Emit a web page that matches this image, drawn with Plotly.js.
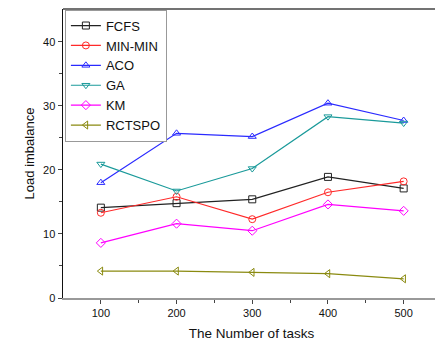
<!DOCTYPE html>
<html><head><meta charset="utf-8">
<script src="https://cdn.plot.ly/plotly-3.0.1.min.js"></script>
<style>html,body{margin:0;padding:0;background:#fff;overflow:hidden}#c{width:435px;height:341px}</style>
</head><body><div id="c"></div>
<script>
const tasks = [100, 200, 300, 400, 500];
const fcfs   = [14.1, 14.8, 15.4, 18.9, 17.1];
const minmin = [13.3, 15.8, 12.3, 16.5, 18.2];
const aco    = [18.0, 25.7, 25.2, 30.4, 27.7];
const ga     = [20.9, 16.7, 20.2, 28.3, 27.3];
const km     = [8.6, 11.6, 10.5, 14.6, 13.6];
const rctspo = [4.2, 4.2, 4.0, 3.8, 3.0];

const names  = ['FCFS','MIN-MIN','ACO','GA','KM','RCTSPO'];
const series = [fcfs, minmin, aco, ga, km, rctspo];
const colors = ['#222222','#ff2a2a','#2a2aff','#1a9a9a','#ff00ff','#8a8a10'];
const symbols = ['square-open','circle-open','triangle-up-open','triangle-down-open','diamond-open','triangle-left-open'];

const traces = series.map((s,i)=>({
  x: tasks, y: s, name: names[i], type:'scatter', mode:'lines+markers',
  line:{color:colors[i], width:1.2},
  marker:{symbol:symbols[i], size:7, color:colors[i], line:{width:1}}
}));

const layout = {
  width:440, height:341,
  margin:{l:63, r:0, t:9, b:43},
  paper_bgcolor:'#fff', plot_bgcolor:'#fff',
  font:{family:'Liberation Sans, Arial, sans-serif', color:'#111', size:11},
  showlegend:true,
  legend:{x:0.005, y:0.998, xanchor:'left', yanchor:'top', bgcolor:'#fff',
          bordercolor:'#999', borderwidth:1, font:{size:13}, tracegroupgap:0, itemwidth:30},
  shapes:[{type:'line', xref:'paper', yref:'paper', x0:0, x1:1, y0:1, y1:1,
           line:{color:'#444', width:1.5}}],
  xaxis:{range:[50,548], tickvals:[100,200,300,400,500], ticks:'outside', ticklen:4,
         showgrid:false, zeroline:false, showline:true, linecolor:'#999', linewidth:1.5, mirror:false,
         minor:{tickvals:[150,250,350,450], ticks:'outside', ticklen:3},
         tickfont:{size:11},
         title:{text:'The Number of tasks', font:{size:13.5}, standoff:11}},
  yaxis:{range:[0,45.1], tickvals:[0,10,20,30,40], ticks:'outside', ticklen:4,
         showgrid:false, zeroline:false, showline:true, linecolor:'#111', linewidth:1.5,
         minor:{tickvals:[5,15,25,35], ticks:'outside', ticklen:3},
         tickfont:{size:11},
         title:{text:'Load imbalance', font:{size:13}, standoff:5}}
};
Plotly.newPlot('c', traces, layout, {displayModeBar:false, staticPlot:true});
</script></body></html>
